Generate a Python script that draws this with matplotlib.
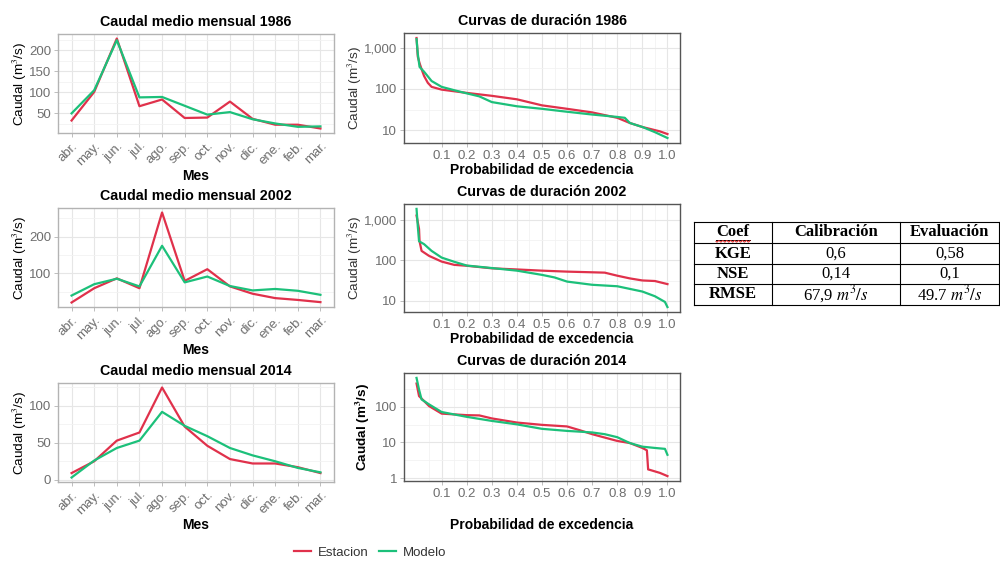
import matplotlib
matplotlib.use("Agg")
import matplotlib.pyplot as plt
import numpy as np

plt.rcParams['font.family'] = ['Liberation Sans', 'DejaVu Sans']
plt.rcParams['mathtext.fontset'] = 'stix'

RED = '#E0314B'
GREEN = '#1CC07A'

meses = ['abr.', 'may.', 'jun.', 'jul.', 'ago.', 'sep.', 'oct.', 'nov.', 'dic.', 'ene.', 'feb.', 'mar.']

# caudal medio mensual (m3/s)
est_1986 = [33, 101, 228, 67, 83, 39, 40, 78, 37, 23, 23, 14]
mod_1986 = [50, 105, 224, 88, 89, 68, 47, 53, 36, 26, 18, 19]
est_2002 = [20, 59, 86, 59, 266, 79, 111, 64, 44, 32, 27, 21]
mod_2002 = [39, 70, 85, 64, 175, 75, 91, 65, 53, 57, 52, 41]
est_2014 = [9, 25, 53, 64, 125, 72, 46, 28, 22, 22, 17, 9]
mod_2014 = [3, 26, 43, 53, 92, 73, 59, 43, 33, 25, 16, 10]

# curvas de duracion: (probabilidad de excedencia, caudal)
cd_est_1986_p = [0.0, 0.005, 0.012, 0.02, 0.03, 0.045, 0.06, 0.1, 0.2, 0.3, 0.4, 0.5, 0.6, 0.7, 0.8, 0.85, 0.9, 0.97, 1.0]
cd_est_1986_q = [1700, 600, 420, 300, 205, 140, 112, 96, 80, 68, 56, 40, 33, 27, 20, 15, 12, 9.4, 8.1]
cd_mod_1986_p = [0.0, 0.005, 0.012, 0.03, 0.06, 0.1, 0.15, 0.2, 0.25, 0.3, 0.4, 0.5, 0.6, 0.7, 0.8, 0.83, 0.85, 0.9, 0.95, 1.0]
cd_mod_1986_q = [1600, 700, 340, 260, 155, 112, 93, 78, 66, 48, 38, 33, 28, 24, 21, 20, 15, 12, 9, 6.5]

cd_est_2002_p = [0.0, 0.01, 0.012, 0.02, 0.05, 0.1, 0.15, 0.2, 0.3, 0.4, 0.5, 0.6, 0.7, 0.75, 0.8, 0.85, 0.9, 0.95, 1.0]
cd_est_2002_q = [1300, 600, 300, 173, 130, 94, 78, 74, 64, 60, 56, 53, 51, 50, 42, 36, 32, 31, 26]
cd_mod_2002_p = [0.0, 0.005, 0.01, 0.03, 0.06, 0.1, 0.15, 0.2, 0.3, 0.4, 0.5, 0.55, 0.6, 0.7, 0.8, 0.9, 0.95, 0.99, 1.0]
cd_mod_2002_q = [1900, 700, 300, 254, 173, 118, 93, 75, 65, 56, 44, 38, 30, 25, 23, 17, 13, 9.4, 7]

cd_est_2014_p = [0.0, 0.01, 0.03, 0.05, 0.1, 0.2, 0.25, 0.3, 0.4, 0.5, 0.6, 0.65, 0.7, 0.8, 0.85, 0.9, 0.918, 0.923, 0.93, 0.97, 1.0]
cd_est_2014_q = [445, 198, 144, 104, 64, 58, 57, 47, 36, 31, 28, 22, 17, 11, 9.6, 7, 6, 1.75, 1.7, 1.4, 1.14]
cd_mod_2014_p = [0.0, 0.01, 0.02, 0.05, 0.1, 0.2, 0.3, 0.4, 0.5, 0.6, 0.65, 0.7, 0.75, 0.8, 0.85, 0.9, 0.95, 0.99, 1.0]
cd_mod_2014_q = [640, 300, 160, 116, 71, 52, 40, 32, 24, 21, 20, 19, 17, 14, 9.6, 7.6, 7, 6.6, 4.5]

prob_ticks = [0.1, 0.2, 0.3, 0.4, 0.5, 0.6, 0.7, 0.8, 0.9, 1.0]

# tabla de metricas
tab_header = ['Coef', 'Calibración', 'Evaluación']
tab_coef = ['KGE', 'NSE', 'RMSE']
tab_cal = ['0,6', '0,14', '67,9 $m^3/s$']
tab_eval = ['0,58', '0,1', '49.7 $m^3/s$']

W, H = 1000, 561
fig = plt.figure(figsize=(10, 5.61), dpi=100)


def px_axes(x0, y0, x1, y1):
    return fig.add_axes([x0 / W, 1 - y1 / H, (x1 - x0) / W, (y1 - y0) / H])


def style(ax, border):
    ax.set_facecolor('white')
    for s in ax.spines.values():
        s.set_color(border)
        s.set_linewidth(1.0)
    ax.tick_params(colors='#B3B3B3', labelcolor='#6E6E6E', labelsize=9.5, length=3, width=0.6, pad=2)
    ax.set_axisbelow(True)


def monthly(ax, est, mod, title, yticks):
    x = np.arange(len(meses))
    ax.plot(x, est, color=RED, lw=1.6)
    ax.plot(x, mod, color=GREEN, lw=1.6)
    allv = est + mod
    lo, hi = min(allv), max(allv)
    r = hi - lo
    ax.set_xticks(x)
    ax.set_xticklabels(meses, rotation=45, ha='right', rotation_mode='anchor')
    ax.set_yticks(yticks)
    step = yticks[1] - yticks[0]
    minors = np.arange(yticks[0] - step / 2, hi + 0.05 * r, step)
    ax.set_yticks(minors, minor=True)
    ax.tick_params(axis='y', which='minor', length=0)
    ax.set_ylim(lo - 0.05 * r, hi + 0.05 * r)
    ax.set_xlim(-0.6, len(meses) - 0.4)
    ax.grid(True, which='major', color='#E6E6E6', lw=0.8)
    ax.grid(True, which='minor', axis='y', color='#F2F2F2', lw=0.6)
    style(ax, '#B3B3B3')
    ax.set_title(title, fontsize=10.3, fontweight='bold', pad=6)
    ax.set_xlabel('Mes', fontsize=10, fontweight='bold', labelpad=1)
    ax.set_ylabel('Caudal (m$^3$/s)', fontsize=9.7, labelpad=0)


def duration(ax, pe, qe, pm, qm, title, yticks, ylabs, bold_ylab=False, xpad=1):
    ax.plot(pe, qe, color=RED, lw=1.6)
    ax.plot(pm, qm, color=GREEN, lw=1.6)
    ax.set_yscale('log')
    allq = np.log10(qe + qm)
    lo, hi = allq.min(), allq.max()
    r = hi - lo
    ax.set_xticks(prob_ticks)
    ax.set_xticklabels(['%.1f' % p for p in prob_ticks])
    ax.set_xticks(np.arange(0.05, 1.0, 0.1), minor=True)
    ax.set_yticks(yticks)
    ax.set_yticklabels(ylabs)
    ax.set_yticks([t * np.sqrt(10) for t in yticks], minor=True)
    ax.tick_params(which='minor', length=0)
    ax.yaxis.set_minor_formatter(matplotlib.ticker.NullFormatter())
    ax.set_ylim(10 ** (lo - 0.05 * r), 10 ** (hi + 0.05 * r))
    ax.set_xlim(-0.05, 1.05)
    ax.grid(True, which='major', color='#E6E6E6', lw=0.8)
    ax.grid(True, which='minor', color='#F2F2F2', lw=0.6)
    style(ax, '#555555')
    ax.set_title(title, fontsize=10.3, fontweight='bold', pad=6)
    ax.set_xlabel('Probabilidad de excedencia', fontsize=10, fontweight='bold', labelpad=xpad)
    if bold_ylab:
        ax.set_ylabel('Caudal (m$^\\mathbf{3}$/s)', fontsize=9.7, fontweight='bold', labelpad=2)
    else:
        ax.set_ylabel('Caudal (m$^3$/s)', fontsize=9.7, color='#333333', labelpad=0)


a1 = px_axes(58, 34, 334, 133)
monthly(a1, est_1986, mod_1986, 'Caudal medio mensual 1986', [50, 100, 150, 200])
a2 = px_axes(58, 208, 334, 307)
monthly(a2, est_2002, mod_2002, 'Caudal medio mensual 2002', [100, 200])
a3 = px_axes(58, 383, 334, 482)
monthly(a3, est_2014, mod_2014, 'Caudal medio mensual 2014', [0, 50, 100])

b1 = px_axes(404, 33, 680, 143)
duration(b1, cd_est_1986_p, cd_est_1986_q, cd_mod_1986_p, cd_mod_1986_q,
         'Curvas de duración 1986', [10, 100, 1000], ['10', '100', '1,000'])
b2 = px_axes(404, 204, 680, 312)
duration(b2, cd_est_2002_p, cd_est_2002_q, cd_mod_2002_p, cd_mod_2002_q,
         'Curvas de duración 2002', [10, 100, 1000], ['10', '100', '1,000'])
b3 = px_axes(404, 373, 680, 481)
duration(b3, cd_est_2014_p, cd_est_2014_q, cd_mod_2014_p, cd_mod_2014_q,
         'Curvas de duración 2014', [1, 10, 100], ['1', '10', '100'], bold_ylab=True, xpad=13)

# tabla
t = px_axes(694, 222, 999, 305)
t.set_xlim(694, 999)
t.set_ylim(305, 222)
t.axis('off')
col_x = [694, 772, 900, 999]
row_y = [222, 243, 264, 284, 305]
for xx in col_x:
    t.plot([xx, xx], [row_y[0], row_y[-1]], color='black', lw=0.8, clip_on=False)
for yy in row_y:
    t.plot([col_x[0], col_x[-1]], [yy, yy], color='black', lw=0.8, clip_on=False)
serif = ['Liberation Serif', 'DejaVu Serif']
centers = [(col_x[i] + col_x[i + 1]) / 2 for i in range(3)]
for i, txt in enumerate(tab_header):
    t.text(centers[i], (row_y[0] + row_y[1]) / 2, txt, ha='center', va='center',
           fontsize=12, fontweight='bold', family=serif)
for r in range(3):
    yc = (row_y[r + 1] + row_y[r + 2]) / 2
    t.text(centers[0], yc, tab_coef[r], ha='center', va='center', fontsize=12,
           fontweight='bold', family=serif)
    t.text(centers[1], yc, tab_cal[r], ha='center', va='center', fontsize=12, family=serif)
    t.text(centers[2], yc, tab_eval[r], ha='center', va='center', fontsize=12, family=serif)
# subrayado de "Coef" y marca del corrector
t.plot([716, 750], [239.5, 239.5], color='black', lw=0.7)
wx = np.linspace(716, 750, 70)
t.plot(wx, 241.3 + 0.8 * np.sin((wx - 716) * 1.6), color='#E02020', lw=0.7)

# leyenda
h1, = a1.plot([], [], color=RED, lw=1.6, label='Estacion')
h2, = a1.plot([], [], color=GREEN, lw=1.6, label='Modelo')
fig.legend(handles=[h1, h2], loc='center', bbox_to_anchor=(0.37, 0.015), ncol=2,
           frameon=False, fontsize=9.5, handlelength=1.3, handletextpad=0.5,
           columnspacing=0.8, labelcolor='#333333')

fig.savefig('out.png', dpi=100)
